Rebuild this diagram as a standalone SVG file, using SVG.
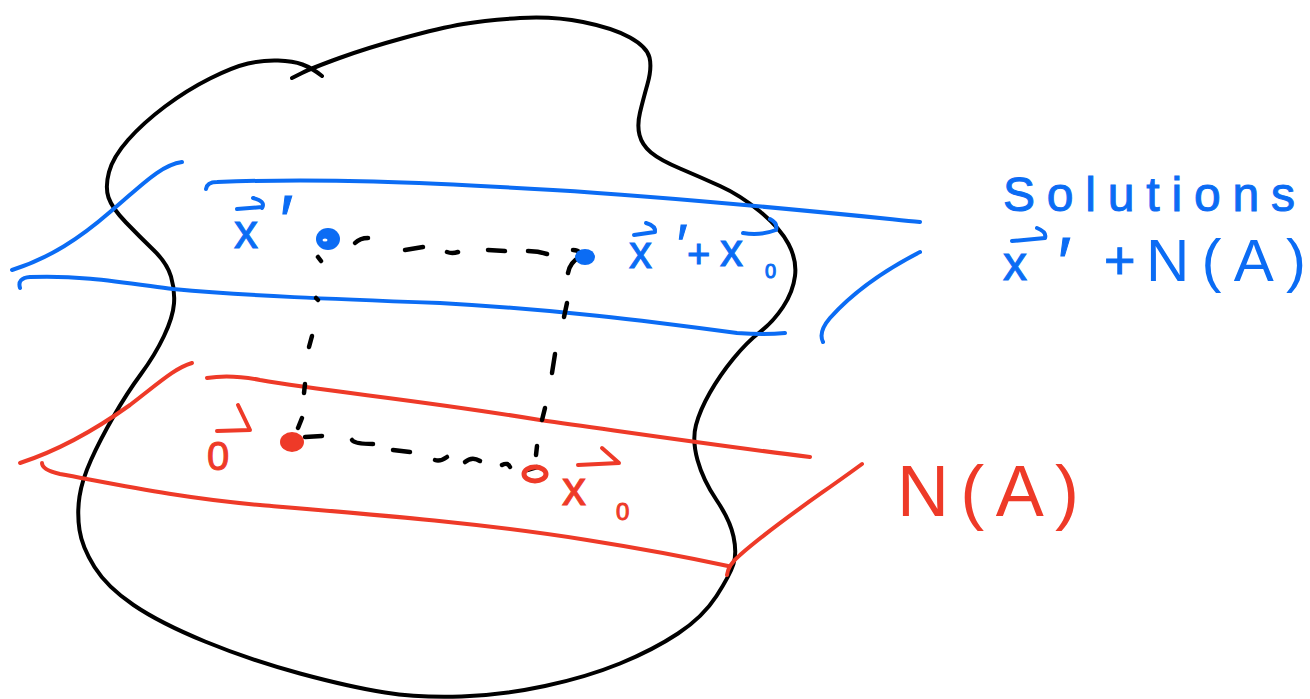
<svg xmlns="http://www.w3.org/2000/svg" width="1310" height="699" viewBox="0 0 1310 699">
<style>
.k{fill:none;stroke:#000;stroke-width:4;stroke-linecap:round;stroke-linejoin:round}
.d{fill:none;stroke:#000;stroke-width:4.5;stroke-linecap:round;stroke-linejoin:round}
.b{fill:none;stroke:#0b6cf4;stroke-width:4;stroke-linecap:round;stroke-linejoin:round}
.r{fill:none;stroke:#ee3a28;stroke-width:4;stroke-linecap:round;stroke-linejoin:round}
.tb{fill:#0b6cf4;stroke:#0b6cf4;stroke-width:1;font-family:"Liberation Sans","DejaVu Sans",sans-serif}
.tr{fill:#ee3a28;stroke:#ee3a28;stroke-width:1;font-family:"Liberation Sans","DejaVu Sans",sans-serif}
.n{stroke-width:0}
</style>
<rect width="1310" height="699" fill="#fff"/>
<g id="blob">
<path class="k" d="M292,78 L302,73 Q312,68 339.5,58 Q367,48 403.5,38 Q440,28 463.5,24 Q487,20 520,18 Q553,16 583,22 Q613,28 630,37.5 Q647,47 649.5,57.5 Q652,68 647.5,84 Q643,100 640,112.5 Q637,125 639.5,135 Q642,145 651,152.5 Q660,160 680,168.5 Q700,177 720,186 Q740,195 760,211.5 Q780,228 788.5,244 Q797,260 795,276 Q793,292 783,307 Q773,322 760,332 Q747,342 733.5,358.5 Q720,375 710,392.5 Q700,410 696,425 Q692,440 697.5,460 Q703,480 716.5,500 Q730,520 733.5,536.5 Q737,553 733.5,564 Q730,575 716.5,596 Q703,617 678,633.5 Q653,650 620,663.5 Q587,677 545,686 Q503,695 461.5,696.5 Q420,698 385,692.5 Q350,687 300,673.5 Q250,660 205,641.5 Q160,623 133.5,605 Q107,587 94.5,567 Q82,547 79.5,530 Q77,513 79.5,496.5 Q82,480 91,460 Q100,440 113.5,416.5 Q127,393 141,374 Q155,355 164,336 Q173,317 174,303.5 Q175,290 171,276.5 Q167,263 153.5,250 Q140,237 126,222.5 Q112,208 108.5,197.5 Q105,187 109,172 Q113,157 128,140 Q143,123 165,106.5 Q187,90 210,78.5 Q233,67 248,63.5 Q263,60 278,60.5 Q293,61 302.5,64.5 Q312,68 322,76"/>
</g>
<g id="solutions-band">
<path class="b" d="M206,189 Q207,182 217,182 C320,178 420,182 553,190 S820,212 920,222"/>
<path class="b" d="M20,288 Q17,278 30,277 C80,275 120,282 173,289 C250,296 330,299 440,303 C560,310 640,320 737,333 Q765,335 785,333"/>
<path class="b" d="M12,270 C50,258 80,238 110,212 C140,187 160,165 182,162"/>
<path class="b" d="M823,342 Q818,332 830,318 C855,290 885,270 920,252"/>
</g>
<g id="nullspace-band">
<path class="r" d="M207,378 Q230,374 260,380 C330,392 420,400 540,420 C640,434 720,446 810,457"/>
<path class="r" d="M42,463 Q42,470 60,474 C120,485 180,498 260,505 C380,515 480,523 587,540 C650,550 700,560 728,566"/>
<path class="r" d="M20,463 C60,450 95,430 130,405 C160,382 175,368 192,363"/>
<path class="r" d="M727,575 Q728,565 740,555 C780,520 820,495 862,464"/>
</g>
<g id="connectors">
<path class="d" d="M355,243 Q360,238 368,238"/>
<path class="d" d="M405,250 L423,247"/>
<path class="d" d="M447,252 Q452,254 458,252"/>
<path class="d" d="M488,250 L505,251"/>
<path class="d" d="M528,251 Q538,251 547,254"/>
<path class="d" d="M573,250 Q578,250 580,253"/>
<path class="d" d="M580,257 Q570,262 568,273"/>
<path class="d" d="M567,303 L564,317"/>
<path class="d" d="M555,354 L552,373"/>
<path class="d" d="M545,408 L542,420"/>
<path class="d" d="M537,446 L536,455"/>
<path class="d" d="M318,257 L321,261"/>
<path class="d" d="M316,298 L318,300"/>
<path class="d" d="M312,336 L309,347"/>
<path class="d" d="M305,384 L304,393"/>
<path class="d" d="M302,418 L298,428"/>
<path class="d" d="M305,437 L322,436"/>
<path class="d" d="M352,440 Q355,444 373,444"/>
<path class="d" d="M393,450 L410,452"/>
<path class="d" d="M435,460 Q440,462 447,457"/>
<path class="d" d="M465,462 Q472,456 480,461"/>
<path class="d" d="M502,465 Q508,462 510,467"/>
<path class="d" d="M527,470 L537,467"/>
</g>
<g id="point-x-prime">
<ellipse cx="328" cy="239" rx="12" ry="11" fill="#0b6cf4"/>
<ellipse cx="325" cy="240" rx="2.5" ry="1.5" fill="#fff"/>
<text class="tb" x="234" y="248" font-size="48">x</text>
<path class="b" d="M237,209 L262,207 M253,198 Q266,201 262,208"/>
<text class="tb" x="280" y="245" font-size="70">′</text>
</g>
<g id="point-x-prime-plus-x0">
<ellipse cx="585" cy="257" rx="10" ry="8" fill="#0b6cf4"/>
<text class="tb" x="629" y="268" font-size="46">x</text>
<path class="b" d="M634,235 L655,232 M646,223 Q656,226 655,232"/>
<text class="tb" x="677" y="263" font-size="56">′</text>
<text class="tb" x="687" y="268" font-size="40">+</text>
<text class="tb" x="720" y="266" font-size="46">x</text>
<path class="b" d="M743,233 Q760,236 776,230 M770,219 Q778,223 776,230"/>
<text class="tb" x="765" y="278" font-size="20">0</text>
</g>
<g id="point-origin">
<ellipse cx="292" cy="442" rx="12" ry="10" fill="#ee3a28"/>
<text class="tr" x="207" y="470" font-size="40">0</text>
<path class="r" d="M217,431 L250,430 L238,405"/>
</g>
<g id="point-x0">
<ellipse cx="535" cy="474" rx="11" ry="7" fill="none" stroke="#ee3a28" stroke-width="5"/>
<text class="tr" x="562" y="505" font-size="48">x</text>
<path class="r" d="M578,465 L619,463 L602,448"/>
<text class="tr" x="616" y="520" font-size="24">0</text>
</g>
<g id="label-solutions">
<text class="tb" x="1003" y="211" font-size="48" textLength="292" lengthAdjust="spacing">Solutions</text>
<text class="tb" x="1003" y="280" font-size="48">x</text>
<path class="b" d="M1012,241 L1045,238 M1037,228 Q1047,232 1045,238"/>
<text class="tb" x="1058" y="287" font-size="70">′</text>
<text class="tb" x="1104" y="279" font-size="54">+</text>
<text class="tb n" x="1146" y="281" font-size="60" textLength="160" lengthAdjust="spacing">N(A)</text>
</g>
<g id="label-NA">
<text class="tr n" x="897" y="516" font-size="72" textLength="182" lengthAdjust="spacing">N(A)</text>
</g>
</svg>
